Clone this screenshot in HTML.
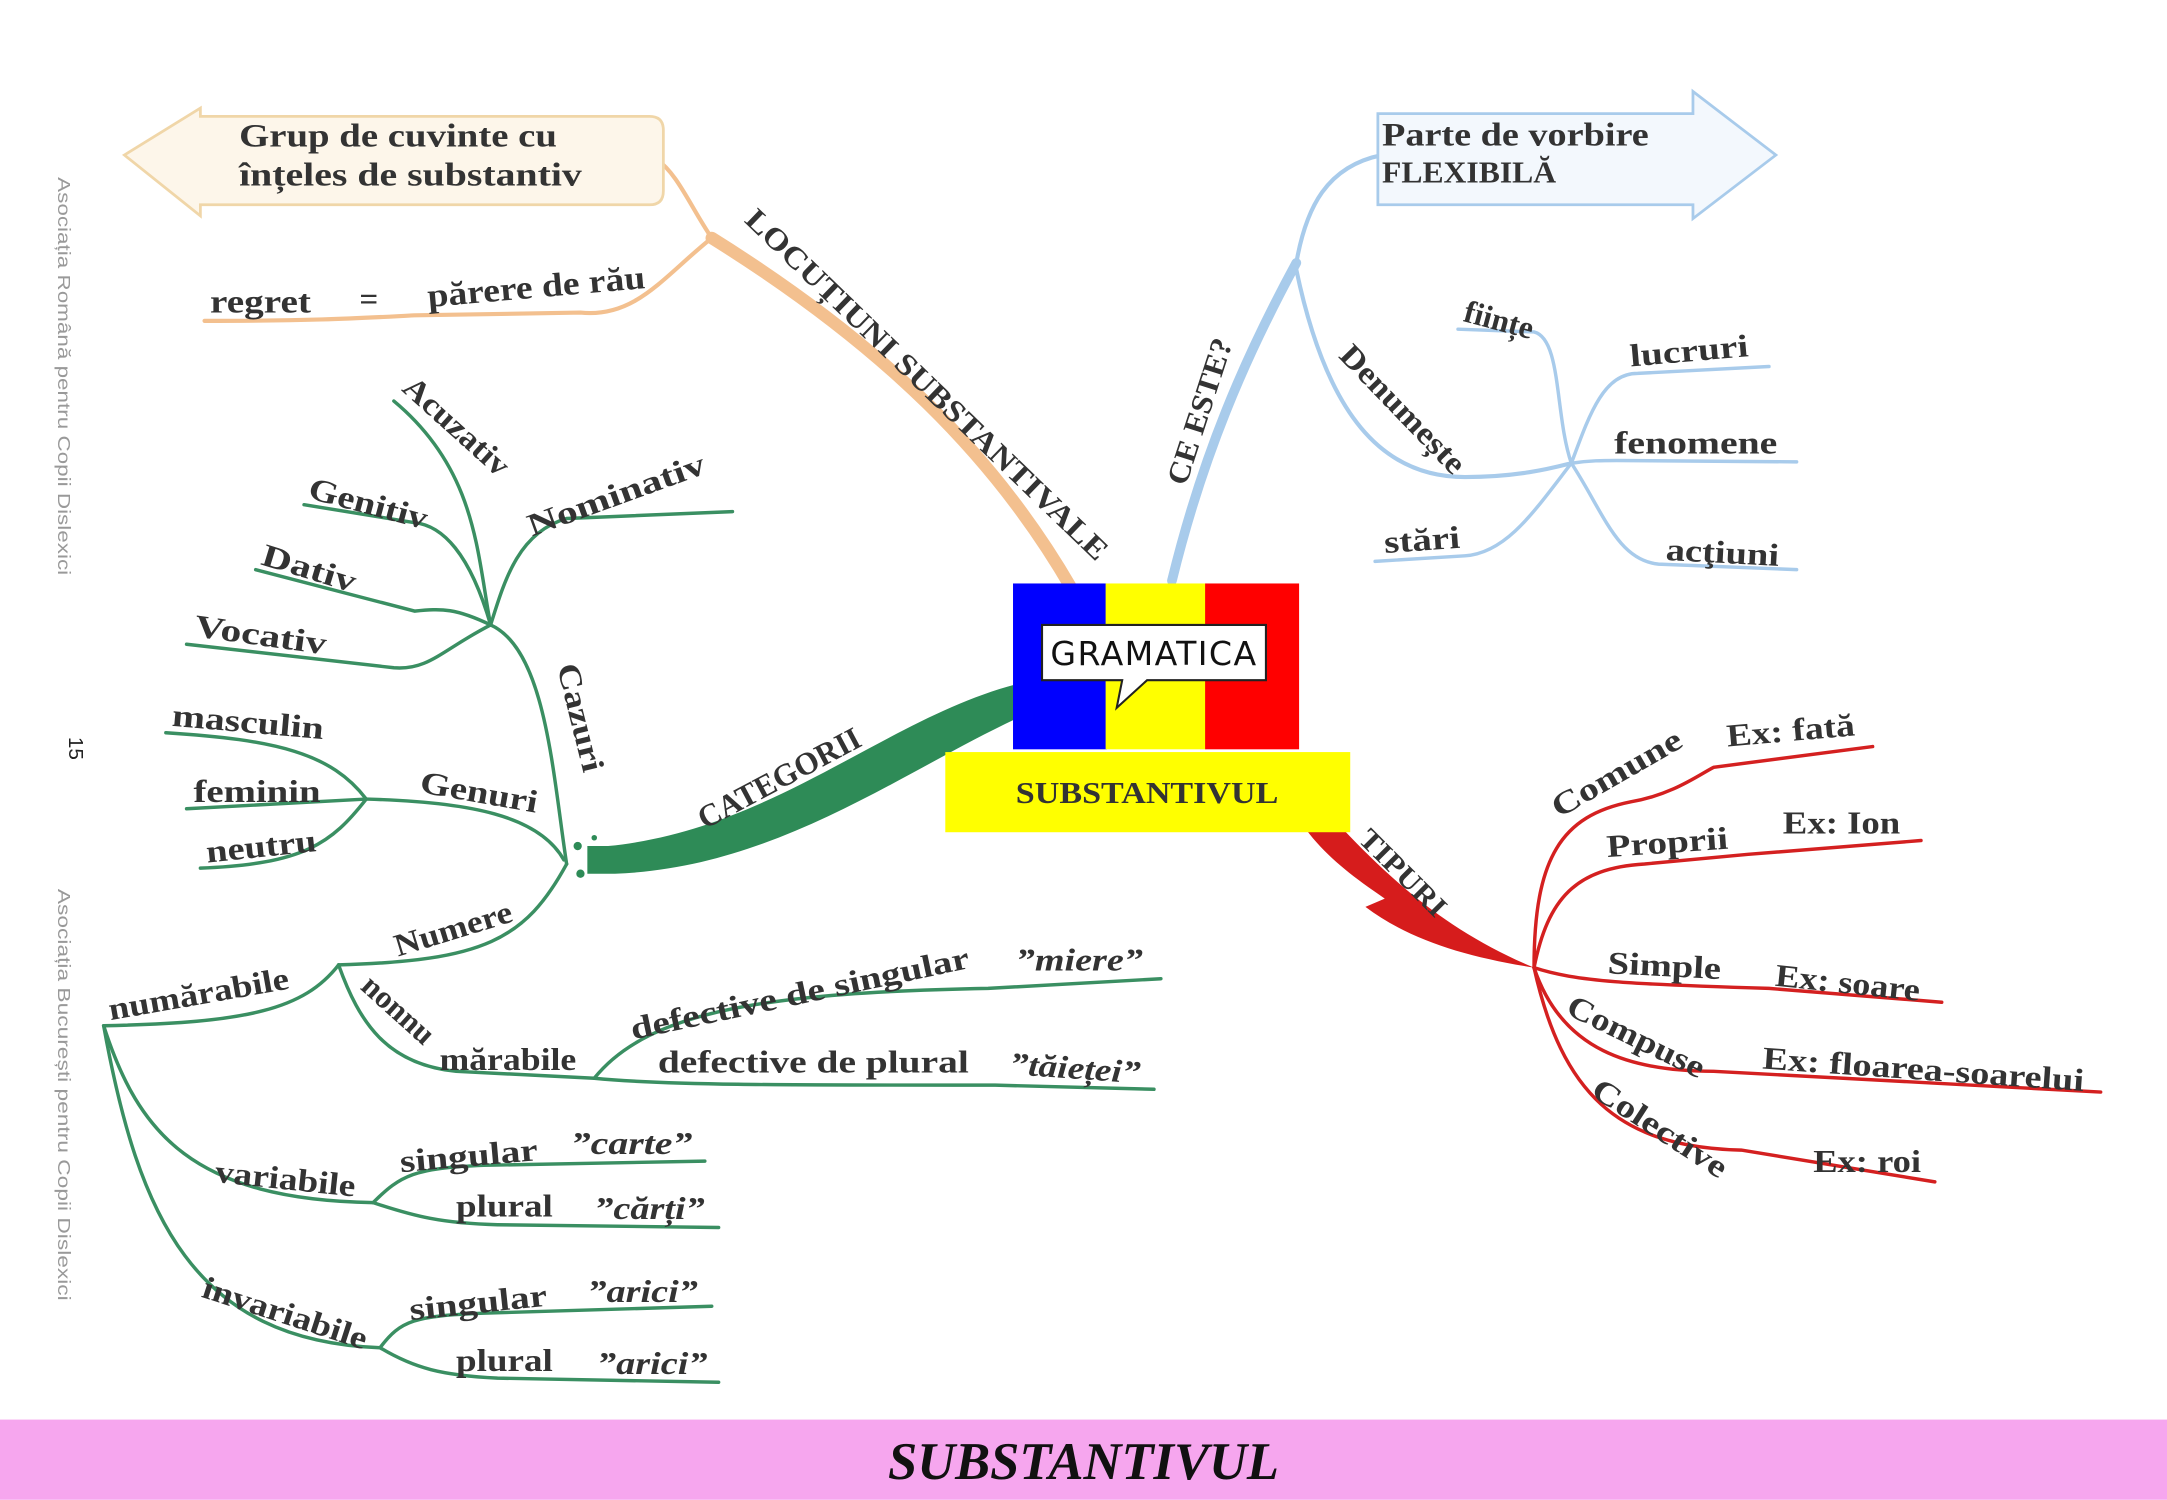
<!DOCTYPE html>
<html><head><meta charset="utf-8"><style>
html,body{margin:0;padding:0;background:#fff;}
svg{display:block;}
text{font-family:"Liberation Serif",serif;font-weight:bold;fill:#333;}
</style></head><body>
<svg width="2167" height="1500" viewBox="0 0 1568 1085" xmlns="http://www.w3.org/2000/svg">
<rect width="1568" height="1085" fill="#fff"/>
<text transform="translate(42,128) rotate(90)" font-size="13" textLength="288" lengthAdjust="spacingAndGlyphs" style="font-family:'Liberation Sans',sans-serif;font-weight:normal;fill:#999">Asociația Română pentru Copii Dislexici</text>
<text transform="translate(50,533) rotate(90)" font-size="15" style="font-family:'Liberation Sans',sans-serif;font-weight:normal;fill:#222">15</text>
<text transform="translate(42,643) rotate(90)" font-size="13" textLength="298" lengthAdjust="spacingAndGlyphs" style="font-family:'Liberation Sans',sans-serif;font-weight:normal;fill:#999">Asociația București pentru Copii Dislexici</text>

<!-- orange -->
<g fill="none" stroke="#f3c08f" stroke-linecap="round">
<path d="M775,425 C720,330 640,250 515,172" stroke-width="9"/>
<path d="M515,172 C500,150 490,125 475,115" stroke-width="3"/>
<path d="M515,172 C480,200 460,230 420,226 L300,228 C260,230 230,232 148,232" stroke-width="3"/>
</g>
<path d="M90,112 L145,78 L145,84 L470,84 Q480,84 480,94 L480,138 Q480,148 470,148 L145,148 L145,156 Z" fill="#fdf6ea" stroke="#f0d6a8" stroke-width="2"/>
<g font-size="24" lengthAdjust="spacingAndGlyphs">
<text x="173" y="106" textLength="230" lengthAdjust="spacingAndGlyphs">Grup de cuvinte cu</text>
<text x="173" y="134" textLength="248" lengthAdjust="spacingAndGlyphs">înțeles de substantiv</text>
<text x="152" y="226" textLength="73" lengthAdjust="spacingAndGlyphs">regret</text>
<text x="260" y="224">=</text>
<text x="310" y="222" textLength="158" lengthAdjust="spacingAndGlyphs" transform="rotate(-5 310 222)">părere de rău</text>
</g>
<text x="538" y="160" font-size="22" textLength="355" lengthAdjust="spacingAndGlyphs" transform="rotate(44 538 160)">LOCUȚIUNI SUBSTANTIVALE</text>

<!-- blue -->
<g fill="none" stroke="#a8cbeb" stroke-linecap="round">
<path d="M848,420 C870,330 900,260 938,190" stroke-width="7"/>
<path d="M938,190 C945,150 960,120 1000,112" stroke-width="3"/>
<path d="M938,195 C960,300 1000,345 1060,345 C1100,345 1125,338 1137,335" stroke-width="3"/>
<path d="M1137,335 C1125,300 1130,245 1110,240 L1055,238" stroke-width="2.5"/>
<path d="M1137,335 C1150,300 1160,270 1185,270 L1280,265" stroke-width="2.5"/>
<path d="M1137,335 C1150,333 1160,333 1170,333 L1300,334" stroke-width="2.5"/>
<path d="M1137,335 C1160,370 1170,405 1200,408 L1300,412" stroke-width="2.5"/>
<path d="M1137,335 C1110,370 1090,400 1060,402 L995,406" stroke-width="2.5"/>
</g>
<path d="M997,82 L1225,82 L1225,66 L1285,112 L1225,158 L1225,148 L997,148 Z" fill="#f3f8fd" stroke="#a8cbeb" stroke-width="2"/>
<text x="1000" y="105" font-size="24" textLength="193" lengthAdjust="spacingAndGlyphs">Parte de vorbire</text>
<text x="1000" y="132" font-size="22" textLength="126" lengthAdjust="spacingAndGlyphs">FLEXIBILĂ</text>
<text x="858" y="352" font-size="22" textLength="110" lengthAdjust="spacingAndGlyphs" transform="rotate(-72 858 352)">CE ESTE?</text>
<text x="968" y="258" font-size="23" textLength="120" lengthAdjust="spacingAndGlyphs" transform="rotate(46 968 258)">Denumește</text>
<text x="1058" y="232" font-size="23" transform="rotate(15 1058 232)">ființe</text>
<text x="1180" y="265" font-size="23" textLength="86" lengthAdjust="spacingAndGlyphs" transform="rotate(-5 1180 265)">lucruri</text>
<text x="1168" y="328" font-size="23" textLength="118" lengthAdjust="spacingAndGlyphs">fenomene</text>
<text x="1205" y="405" font-size="23" textLength="82" lengthAdjust="spacingAndGlyphs" transform="rotate(3 1205 405)">acţiuni</text>
<text x="1002" y="400" font-size="23" textLength="55" lengthAdjust="spacingAndGlyphs" transform="rotate(-4 1002 400)">stări</text>

<!-- green -->
<path d="M735,495 C640,520 560,600 440,612 L425,612 L425,632 L445,632 C560,628 650,560 735,520 Z" fill="#2e8b57"/>
<circle cx="418" cy="612" r="3" fill="#2e8b57"/><circle cx="420" cy="632" r="3" fill="#2e8b57"/><circle cx="430" cy="606" r="2" fill="#2e8b57"/>
<text x="510" y="600" font-size="23" textLength="130" lengthAdjust="spacingAndGlyphs" transform="rotate(-28 510 600)">CATEGORII</text>
<g fill="none" stroke="#3a8f62" stroke-width="2.5" stroke-linecap="round">
<path d="M410,625 C400,560 395,470 355,452"/>
<path d="M355,452 C365,420 375,385 410,375 L530,370"/>
<path d="M355,452 C345,400 345,340 285,290"/>
<path d="M355,452 C340,400 320,380 300,378 L220,365"/>
<path d="M355,452 C330,440 320,440 300,442 L185,412"/>
<path d="M355,452 C320,470 310,485 285,483 L135,466"/>
<path d="M408,622 C390,590 340,580 265,578"/>
<path d="M265,578 C240,545 200,535 120,530"/>
<path d="M265,578 L135,585"/>
<path d="M265,578 C240,610 220,625 145,628"/>
<path d="M410,625 C380,680 350,695 245,698"/>
<path d="M245,698 C220,730 180,740 75,742"/>
<path d="M245,698 C260,740 280,770 330,775 L430,780"/>
<path d="M430,780 C470,730 560,718 715,715 L840,708"/>
<path d="M430,780 C480,785 560,785 720,785 L835,788"/>
<path d="M75,742 C100,820 140,868 270,870"/>
<path d="M270,870 C290,850 300,845 350,843 L510,840"/>
<path d="M270,870 C300,880 320,885 360,886 L520,888"/>
<path d="M75,742 C100,880 140,970 275,975"/>
<path d="M275,975 C290,955 300,952 350,950 L515,945"/>
<path d="M275,975 C300,990 320,995 360,997 L520,1000"/>
</g>
<text x="403" y="482" font-size="23" textLength="80" lengthAdjust="spacingAndGlyphs" transform="rotate(76 403 482)">Cazuri</text>
<text x="385" y="388" font-size="23" textLength="135" lengthAdjust="spacingAndGlyphs" transform="rotate(-20 385 388)">Nominativ</text>
<text x="290" y="282" font-size="23" textLength="95" lengthAdjust="spacingAndGlyphs" transform="rotate(42 290 282)">Acuzativ</text>
<text x="222" y="360" font-size="23" textLength="88" lengthAdjust="spacingAndGlyphs" transform="rotate(15 222 360)">Genitiv</text>
<text x="188" y="408" font-size="23" textLength="70" lengthAdjust="spacingAndGlyphs" transform="rotate(17 188 408)">Dativ</text>
<text x="140" y="460" font-size="23" textLength="96" lengthAdjust="spacingAndGlyphs" transform="rotate(8 140 460)">Vocativ</text>
<text x="303" y="573" font-size="23" textLength="86" lengthAdjust="spacingAndGlyphs" transform="rotate(10 303 573)">Genuri</text>
<text x="124" y="525" font-size="23" textLength="110" lengthAdjust="spacingAndGlyphs" transform="rotate(5 124 525)">masculin</text>
<text x="140" y="580" font-size="23" textLength="92" lengthAdjust="spacingAndGlyphs">feminin</text>
<text x="150" y="624" font-size="23" textLength="80" lengthAdjust="spacingAndGlyphs" transform="rotate(-6 150 624)">neutru</text>
<text x="288" y="692" font-size="23" textLength="88" lengthAdjust="spacingAndGlyphs" transform="rotate(-17 288 692)">Numere</text>
<text x="80" y="738" font-size="23" textLength="132" lengthAdjust="spacingAndGlyphs" transform="rotate(-10 80 738)">numărabile</text>
<text x="260" y="715" font-size="23" transform="rotate(42 260 715)">nonnu</text>
<text x="318" y="774" font-size="23" textLength="99" lengthAdjust="spacingAndGlyphs">mărabile</text>
<text x="458" y="752" font-size="23" textLength="250" lengthAdjust="spacingAndGlyphs" transform="rotate(-12 458 752)">defective de singular</text>
<text x="476" y="776" font-size="23" textLength="225" lengthAdjust="spacingAndGlyphs">defective de plural</text>
<text x="735" y="702" font-size="23" font-style="italic" textLength="92" lengthAdjust="spacingAndGlyphs">”miere”</text>
<text x="730" y="777" font-size="23" font-style="italic" textLength="95" lengthAdjust="spacingAndGlyphs" transform="rotate(4 730 777)">”tăieței”</text>
<text x="155" y="855" font-size="23" textLength="102" lengthAdjust="spacingAndGlyphs" transform="rotate(6 155 855)">variabile</text>
<text x="290" y="848" font-size="23" textLength="100" lengthAdjust="spacingAndGlyphs" transform="rotate(-5 290 848)">singular</text>
<text x="330" y="880" font-size="23" textLength="70" lengthAdjust="spacingAndGlyphs">plural</text>
<text x="413" y="835" font-size="23" font-style="italic" textLength="88" lengthAdjust="spacingAndGlyphs">”carte”</text>
<text x="430" y="882" font-size="23" font-style="italic" textLength="80" lengthAdjust="spacingAndGlyphs">”cărți”</text>
<text x="145" y="938" font-size="23" textLength="124" lengthAdjust="spacingAndGlyphs" transform="rotate(18 145 938)">invariabile</text>
<text x="297" y="955" font-size="23" textLength="100" lengthAdjust="spacingAndGlyphs" transform="rotate(-6 297 955)">singular</text>
<text x="330" y="992" font-size="23" textLength="70" lengthAdjust="spacingAndGlyphs">plural</text>
<text x="425" y="942" font-size="23" font-style="italic" textLength="80" lengthAdjust="spacingAndGlyphs">”arici”</text>
<text x="432" y="994" font-size="23" font-style="italic" textLength="80" lengthAdjust="spacingAndGlyphs">”arici”</text>

<!-- red -->
<path d="M945,600 L972,600 C1010,640 1050,675 1110,700 C1060,692 1020,680 988,656 L1002,650 C980,635 960,620 945,600 Z" fill="#d61c1c"/>
<text x="982" y="608" font-size="21" textLength="80" lengthAdjust="spacingAndGlyphs" transform="rotate(45 982 608)">TIPURI</text>
<g fill="none" stroke="#d42020" stroke-width="2.5" stroke-linecap="round">
<path d="M1110,700 C1110,620 1130,590 1180,580 C1210,575 1230,560 1240,555 L1355,540"/>
<path d="M1110,700 C1120,650 1140,628 1190,625 L1265,618 L1390,608"/>
<path d="M1110,700 C1140,710 1180,712 1280,715 L1405,725"/>
<path d="M1110,700 C1130,760 1180,775 1240,775 L1520,790"/>
<path d="M1110,700 C1130,790 1170,830 1260,832 L1400,855"/>
</g>
<text x="1128" y="592" font-size="23" textLength="105" lengthAdjust="spacingAndGlyphs" transform="rotate(-30 1128 592)">Comune</text>
<text x="1250" y="540" font-size="23" textLength="93" lengthAdjust="spacingAndGlyphs" transform="rotate(-5 1250 540)">Ex: fată</text>
<text x="1163" y="620" font-size="23" textLength="88" lengthAdjust="spacingAndGlyphs" transform="rotate(-4 1163 620)">Proprii</text>
<text x="1290" y="603" font-size="23" textLength="85" lengthAdjust="spacingAndGlyphs">Ex: Ion</text>
<text x="1163" y="704" font-size="23" textLength="82" lengthAdjust="spacingAndGlyphs" transform="rotate(3 1163 704)">Simple</text>
<text x="1284" y="713" font-size="23" textLength="105" lengthAdjust="spacingAndGlyphs" transform="rotate(6 1284 713)">Ex: soare</text>
<text x="1132" y="733" font-size="23" textLength="108" lengthAdjust="spacingAndGlyphs" transform="rotate(26 1132 733)">Compuse</text>
<text x="1275" y="773" font-size="23" textLength="233" lengthAdjust="spacingAndGlyphs" transform="rotate(4 1275 773)">Ex: floarea-soarelui</text>
<text x="1150" y="792" font-size="23" textLength="112" lengthAdjust="spacingAndGlyphs" transform="rotate(33 1150 792)">Colective</text>
<text x="1312" y="848" font-size="23" textLength="78" lengthAdjust="spacingAndGlyphs">Ex: roi</text>

<!-- center -->
<rect x="733" y="422" width="68" height="120" fill="#0000ff"/>
<rect x="800" y="422" width="73" height="120" fill="#ffff00"/>
<rect x="872" y="422" width="68" height="120" fill="#ff0000"/>
<path d="M754,452 L916,452 L916,492 L830,492 L808,512 L812,492 L754,492 Z" fill="#fff" stroke="#222" stroke-width="1.5"/>
<text x="835" y="481" font-size="24" text-anchor="middle" style="font-family:'DejaVu Sans',sans-serif;font-weight:normal;fill:#111;letter-spacing:1px">GRAMATICA</text>
<rect x="684" y="544" width="293" height="58" fill="#ffff00"/>
<text x="830" y="581" font-size="22" text-anchor="middle" textLength="190" lengthAdjust="spacingAndGlyphs">SUBSTANTIVUL</text>

<!-- bottom -->
<rect x="0" y="1027" width="1568" height="58" fill="#f6a6ee"/>
<text x="784" y="1070" font-size="38" text-anchor="middle" font-style="italic" style="fill:#111">SUBSTANTIVUL</text>
</svg>
</body></html>
